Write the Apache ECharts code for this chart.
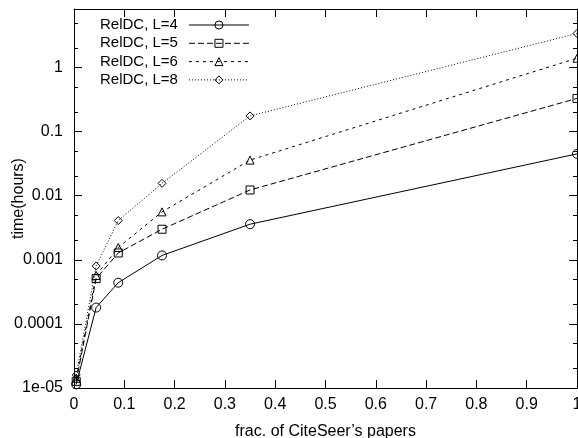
<!DOCTYPE html>
<html>
<head>
<meta charset="utf-8">
<script src="https://cdn.jsdelivr.net/npm/echarts@6/dist/echarts.min.js"></script>
<style>html,body{margin:0;padding:0;background:#fff;}#c{width:578px;height:438px;}</style>
</head>
<body>
<div id="c"></div>
<script>
var fracs = [0.0044, 0.044, 0.088, 0.175, 0.35, 1.0];
var seriesNames = ['RelDC, L=4', 'RelDC, L=5', 'RelDC, L=6', 'RelDC, L=8'];
var timeL4 = [1.14e-5, 1.8e-4, 4.4e-4, 1.17e-3, 3.6e-3, 0.045];
var timeL5 = [1.27e-5, 5.1e-4, 1.28e-3, 3.0e-3, 0.0123, 0.33];
var timeL6 = [1.42e-5, 5.7e-4, 1.56e-3, 5.6e-3, 0.036, 1.4];
var timeL8 = [1.6e-5, 8.0e-4, 4.1e-3, 0.0156, 0.176, 3.4];
var yTickValues = [1e-5, 1e-4, 1e-3, 1e-2, 1e-1, 1];
var yTickLabels = ['1e-05', '0.0001', '0.001', '0.01', '0.1', '1'];
var yMinorMultipliers = [2, 5];

var yMinorValues = [];
yTickValues.forEach(function (d) {
  yMinorMultipliers.forEach(function (m) { yMinorValues.push(d * m); });
});

var FONT = "'Liberation Sans', Arial, sans-serif";
var Y_MIN = 1e-5, Y_MAX = 8.2;

function pairs(ys) { return fracs.map(function (x, i) { return [x, ys[i]]; }); }
function yLabel(v) {
  var best = 0, bd = Infinity;
  for (var i = 0; i < yTickValues.length; i++) {
    var d = Math.abs(Math.log10(v) - Math.log10(yTickValues[i]));
    if (d < bd) { bd = d; best = i; }
  }
  return yTickLabels[best];
}

function yAx(pos, ticks, len, labels, line) {
  return {
    type: 'log', logBase: 10, position: pos, min: Y_MIN, max: Y_MAX,
    axisLine: { show: line, lineStyle: { color: '#000', width: 1 } },
    axisTick: { show: true, inside: true, length: len, customValues: ticks, lineStyle: { color: '#000', width: 1 } },
    axisLabel: labels ? { show: true, customValues: yTickValues, formatter: yLabel, margin: 11, color: '#000', fontSize: 16, fontFamily: FONT } : { show: false },
    splitLine: { show: false }, minorTick: { show: false }, minorSplitLine: { show: false }
  };
}

var styles = [
  { symbol: 'circle', size: 9, dash: 'solid' },
  { symbol: 'rect', size: 8, dash: [6, 3] },
  { symbol: 'triangle', size: 8, dash: [3, 4] },
  { symbol: 'diamond', size: 8, dash: [1, 2] }
];
var allData = [timeL4, timeL5, timeL6, timeL8];

var series = allData.map(function (ys, i) {
  return {
    name: seriesNames[i], type: 'line', xAxisIndex: 0, yAxisIndex: 0,
    data: pairs(ys), symbol: styles[i].symbol, symbolSize: styles[i].size,
    showSymbol: true, animation: false,
    lineStyle: { color: '#000', width: 1, type: styles[i].dash },
    itemStyle: { color: 'rgba(0,0,0,0)', borderColor: '#000', borderWidth: 1 },
    emphasis: { disabled: true }
  };
});

var chart = echarts.init(document.getElementById('c'), null, { renderer: 'canvas' });
chart.setOption({
  backgroundColor: '#fff',
  animation: false,
  grid: { left: 74, right: 1, top: 9, bottom: 50, show: false, containLabel: false, outerBoundsMode: 'none' },
  legend: {
    orient: 'vertical', left: 100, top: 17.5, padding: 0, align: 'right',
    itemWidth: 60, itemHeight: 10, itemGap: 3.3, selectedMode: false,
    lineStyle: { width: 1 },
    itemStyle: { borderWidth: 1 },
    textStyle: { color: '#000', fontSize: 15, fontFamily: FONT, padding: [0, 6, 0, 0] },
    data: seriesNames
  },
  xAxis: [
    {
      type: 'value', position: 'bottom', min: 0, max: 1, interval: 0.1,
      name: "frac. of CiteSeer\u2019s papers", nameLocation: 'middle', nameGap: 36, nameMoveOverlap: false,
      nameTextStyle: { color: '#000', fontSize: 16, fontFamily: FONT },
      axisLine: { show: true, lineStyle: { color: '#000', width: 1 } },
      axisTick: { inside: true, length: 8, lineStyle: { color: '#000' } },
      axisLabel: { margin: 9, color: '#000', fontSize: 16, fontFamily: FONT },
      splitLine: { show: false }
    },
    {
      type: 'value', position: 'top', min: 0, max: 1, interval: 0.1,
      axisLine: { show: true, lineStyle: { color: '#000', width: 1 } },
      axisTick: { inside: true, length: 8, lineStyle: { color: '#000' } },
      axisLabel: { show: false }, splitLine: { show: false }
    }
  ],
  yAxis: [
    Object.assign(yAx('left', yTickValues, 8, true, true), {
      name: 'time(hours)', nameLocation: 'middle', nameGap: 47, nameRotate: 90, nameMoveOverlap: false,
      nameTextStyle: { color: '#000', fontSize: 16, fontFamily: FONT }
    }),
    yAx('left', yMinorValues, 4, false, false),
    yAx('right', yTickValues, 8, false, true),
    yAx('right', yMinorValues, 4, false, false)
  ],
  series: series
});
</script>
</body>
</html>
